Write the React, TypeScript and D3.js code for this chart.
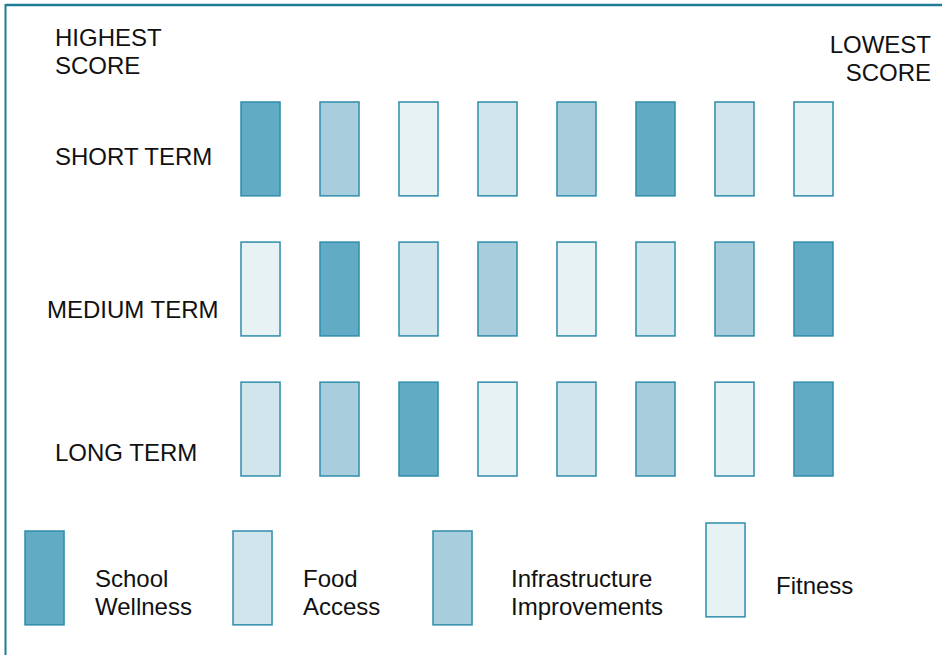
import React from "react";
import * as d3 from "d3";

// ---- data ----
const terms = ["SHORT TERM", "MEDIUM TERM", "LONG TERM"];
const ranks = [1, 2, 3, 4, 5, 6, 7, 8];
const categories = ["School Wellness", "Food Access", "Infrastructure Improvements", "Fitness"];
const legendLines = [["School", "Wellness"], ["Food", "Access"], ["Infrastructure", "Improvements"], ["Fitness"]];
const shortTerm = ["School Wellness", "Infrastructure Improvements", "Fitness", "Food Access", "Infrastructure Improvements", "School Wellness", "Food Access", "Fitness"];
const mediumTerm = ["Fitness", "School Wellness", "Food Access", "Infrastructure Improvements", "Fitness", "Food Access", "Infrastructure Improvements", "School Wellness"];
const longTerm = ["Food Access", "Infrastructure Improvements", "School Wellness", "Fitness", "Food Access", "Infrastructure Improvements", "Fitness", "School Wellness"];
const rankings = [shortTerm, mediumTerm, longTerm];
const extremeLabels = [["HIGHEST", "SCORE"], ["LOWEST", "SCORE"]];

// ---- style / layout ----
const W = 942;
const H = 655;
const FONT = "'Liberation Sans', Arial, sans-serif";
const FS = 24;
const color = d3
  .scaleOrdinal<string, string>()
  .domain(categories)
  .range(["#62abc4", "#d1e5ed", "#a8cedd", "#e7f2f5"]);
const strokeColor = "#2f8dab";
const rowLabelX = [55, 47, 55];
const rowLabelDy = [16, 29, 32];
const legendX = [25, 233, 433, 706];
const legendY = [531, 531, 531, 523];
const legendTextX = [95, 303, 511, 776];
const legendTextY = [587, 587, 587, 594];

export default function App() {
  const x = d3.scaleBand<number>().domain(ranks).range([241, 833]).paddingInner(0.506).paddingOuter(0);
  const y = d3.scaleBand<string>().domain(terms).range([102, 476]).paddingInner(0.33).paddingOuter(0);
  const bw = x.bandwidth();
  const bh = y.bandwidth();

  return (
    <svg
      width={W}
      height={H}
      style={{ position: "absolute", left: 0, top: 0, background: "#fff" }}
      fontFamily={FONT}
    >
      {/* frame */}
      <line x1={5.5} y1={5} x2={W} y2={5} stroke="#1f7d98" strokeWidth={2.5} />
      <line x1={5.5} y1={4} x2={5.5} y2={H} stroke="#1f7d98" strokeWidth={2} />

      {/* extreme labels */}
      <text x={55} y={46} fontSize={FS} fill="#111">
        <tspan x={55}>{extremeLabels[0][0]}</tspan>
        <tspan x={55} dy={28}>{extremeLabels[0][1]}</tspan>
      </text>
      <text x={931} y={53} fontSize={FS} fill="#111" textAnchor="end">
        <tspan x={931}>{extremeLabels[1][0]}</tspan>
        <tspan x={931} dy={28}>{extremeLabels[1][1]}</tspan>
      </text>

      {/* rows */}
      {terms.map((t, i) => (
        <g key={t}>
          <text
            x={rowLabelX[i]}
            y={(y(t) as number) + bh / 2 + rowLabelDy[i]}
            fontSize={FS}
            fill="#111"
          >
            {t}
          </text>
          {rankings[i].map((c, j) => (
            <rect
              key={j}
              x={x(ranks[j]) as number}
              y={y(t) as number}
              width={bw}
              height={bh}
              fill={color(c)}
              stroke={strokeColor}
              strokeWidth={1.5}
            />
          ))}
        </g>
      ))}

      {/* legend */}
      {categories.map((c, i) => (
        <g key={c}>
          <rect
            x={legendX[i]}
            y={legendY[i]}
            width={bw}
            height={bh}
            fill={color(c)}
            stroke={strokeColor}
            strokeWidth={1.5}
          />
          <text x={legendTextX[i]} y={legendTextY[i]} fontSize={FS} fill="#111">
            {legendLines[i].map((l, k) => (
              <tspan key={k} x={legendTextX[i]} dy={k === 0 ? 0 : 28}>
                {l}
              </tspan>
            ))}
          </text>
        </g>
      ))}
    </svg>
  );
}
